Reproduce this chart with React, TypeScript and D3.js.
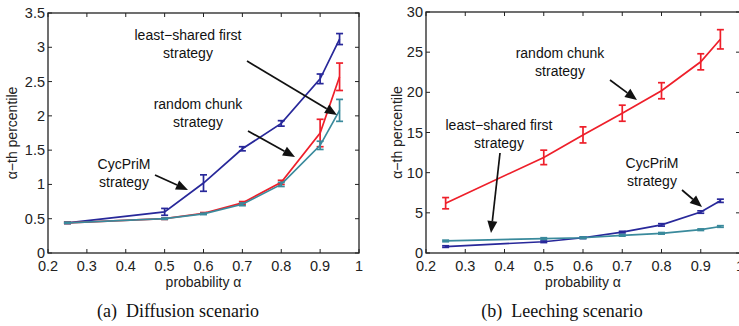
import React from "react";
import * as d3 from "d3";

const alphas = [0.25, 0.5, 0.6, 0.7, 0.8, 0.9, 0.95];

const diffCyc = [0.44, 0.6, 1.02, 1.52, 1.89, 2.54, 3.12];
const diffCycErr = [0.01, 0.05, 0.12, 0.03, 0.04, 0.07, 0.08];
const diffRandom = [0.44, 0.5, 0.58, 0.73, 1.03, 1.75, 2.57];
const diffRandomErr = [0.01, 0.01, 0.01, 0.02, 0.03, 0.2, 0.2];
const diffLeast = [0.44, 0.5, 0.57, 0.71, 1.0, 1.57, 2.08];
const diffLeastErr = [0.01, 0.01, 0.01, 0.02, 0.03, 0.06, 0.16];

const leechCyc = [0.8, 1.4, 1.9, 2.6, 3.5, 5.1, 6.5];
const leechCycErr = [0.1, 0.1, 0.1, 0.1, 0.15, 0.15, 0.2];
const leechRandom = [6.2, 11.9, 14.7, 17.4, 20.2, 23.8, 26.6];
const leechRandomErr = [0.7, 0.9, 1.0, 1.0, 1.0, 1.0, 1.2];
const leechLeast = [1.5, 1.8, 1.9, 2.2, 2.45, 2.9, 3.3];
const leechLeastErr = [0.1, 0.1, 0.1, 0.1, 0.1, 0.1, 0.1];

const xTicks = [0.2, 0.3, 0.4, 0.5, 0.6, 0.7, 0.8, 0.9, 1];
const diffYTicks = [0, 0.5, 1, 1.5, 2, 2.5, 3, 3.5];
const leechYTicks = [0, 5, 10, 15, 20, 25, 30];

const BLUE = "#28289a";
const RED = "#ee1f2a";
const TEAL = "#3a8a9c";
const SANS = "'Liberation Sans', Arial, sans-serif";
const SERIF = "'Liberation Serif', 'Times New Roman', serif";

type Series = { vals: number[]; errs: number[]; color: string };
type Ann = { lines: string[]; tx: number; ty: number; from: [number, number]; to: [number, number] };

function Arrow({ from, to }: { from: [number, number]; to: [number, number] }) {
  const [x1, y1] = from;
  const [x2, y2] = to;
  const ang = Math.atan2(y2 - y1, x2 - x1);
  const L = 12, W = 5;
  const bx = x2 - L * Math.cos(ang);
  const by = y2 - L * Math.sin(ang);
  const px = -Math.sin(ang), py = Math.cos(ang);
  const pts = `${x2},${y2} ${bx + W * px},${by + W * py} ${bx - W * px},${by - W * py}`;
  return (
    <g>
      <line x1={x1} y1={y1} x2={bx} y2={by} stroke="#111" strokeWidth={1.7} />
      <polygon points={pts} fill="#111" />
    </g>
  );
}

function Panel({
  left, right, top, bottom, yMax, yTicks, series, anns, yLabelX, caption, captionX,
}: {
  left: number; right: number; top: number; bottom: number; yMax: number; yTicks: number[];
  series: Series[]; anns: Ann[]; yLabelX: number; caption: string; captionX: number;
}) {
  const x = d3.scaleLinear().domain([0.2, 1]).range([left, right]);
  const y = d3.scaleLinear().domain([0, yMax]).range([bottom, top]);
  const line = d3.line<number>().x((_, i) => x(alphas[i])).y((v) => y(v));
  const tl = 4;
  return (
    <g>
      {series.map((s, si) => (
        <g key={si}>
          <path d={line(s.vals) || ""} fill="none" stroke={s.color} strokeWidth={1.7} />
          {s.vals.map((v, i) => {
            const cx = x(alphas[i]);
            const y1 = y(v + s.errs[i]);
            const y2 = y(v - s.errs[i]);
            return (
              <g key={i} stroke={s.color} strokeWidth={1.7}>
                <line x1={cx} x2={cx} y1={y1} y2={y2} />
                <line x1={cx - 3.5} x2={cx + 3.5} y1={y1} y2={y1} />
                <line x1={cx - 3.5} x2={cx + 3.5} y1={y2} y2={y2} />
              </g>
            );
          })}
        </g>
      ))}
      <rect x={left} y={top} width={right - left} height={bottom - top} fill="none" stroke="#222" strokeWidth={1.3} />
      {xTicks.map((t) => (
        <g key={"x" + t}>
          <line x1={x(t)} x2={x(t)} y1={bottom} y2={bottom - tl} stroke="#222" />
          <line x1={x(t)} x2={x(t)} y1={top} y2={top + tl} stroke="#222" />
          <text x={x(t)} y={271} textAnchor="middle" fontFamily={SANS} fontSize={14.5} fill="#222">
            {String(t)}
          </text>
        </g>
      ))}
      {yTicks.map((t) => (
        <g key={"y" + t}>
          <line x1={left} x2={left + tl} y1={y(t)} y2={y(t)} stroke="#222" />
          <line x1={right} x2={right - tl} y1={y(t)} y2={y(t)} stroke="#222" />
          <text x={left - 3} y={y(t) + 5} textAnchor="end" fontFamily={SANS} fontSize={14.5} fill="#222">
            {String(t)}
          </text>
        </g>
      ))}
      <text
        transform={`translate(${yLabelX},${(top + bottom) / 2}) rotate(-90)`}
        textAnchor="middle" fontFamily={SANS} fontSize={14} fill="#222"
      >
        α−th percentile
      </text>
      <text x={(left + right) / 2} y={287} textAnchor="middle" fontFamily={SANS} fontSize={14} fill="#222">
        probability α
      </text>
      {anns.map((a, ai) => (
        <g key={ai}>
          {a.lines.map((l, li) => (
            <text key={li} x={a.tx} y={a.ty + li * 18} textAnchor="middle" fontFamily={SANS} fontSize={14} fill="#111">
              {l}
            </text>
          ))}
          <Arrow from={a.from} to={a.to} />
        </g>
      ))}
      <text x={captionX} y={317} textAnchor="middle" fontFamily={SERIF} fontSize={18} fill="#111" xmlSpace="preserve">
        {caption}
      </text>
    </g>
  );
}

export default function App() {
  return (
    <svg width={739} height={326} style={{ position: "absolute", left: 0, top: 0, background: "#fff" }}>
      <Panel
        left={48} right={359} top={13} bottom={253} yMax={3.5} yTicks={diffYTicks}
        series={[
          { vals: diffCyc, errs: diffCycErr, color: BLUE },
          { vals: diffRandom, errs: diffRandomErr, color: RED },
          { vals: diffLeast, errs: diffLeastErr, color: TEAL },
        ]}
        anns={[
          { lines: ["least−shared first", "strategy"], tx: 188, ty: 40, from: [247, 61], to: [337, 115] },
          { lines: ["random chunk", "strategy"], tx: 198, ty: 109, from: [248, 131], to: [295, 157] },
          { lines: ["CycPriM", "strategy"], tx: 124, ty: 169, from: [155, 175], to: [188, 190] },
        ]}
        yLabelX={17}
        caption="(a)  Diffusion scenario"
        captionX={178}
      />
      <Panel
        left={426} right={740} top={12} bottom={253} yMax={30} yTicks={leechYTicks}
        series={[
          { vals: leechRandom, errs: leechRandomErr, color: RED },
          { vals: leechCyc, errs: leechCycErr, color: BLUE },
          { vals: leechLeast, errs: leechLeastErr, color: TEAL },
        ]}
        anns={[
          { lines: ["random chunk", "strategy"], tx: 560, ty: 58, from: [610, 80], to: [637, 100] },
          { lines: ["least−shared first", "strategy"], tx: 499, ty: 130, from: [500, 153], to: [491, 233] },
          { lines: ["CycPriM", "strategy"], tx: 652, ty: 168, from: [682, 190], to: [702, 207] },
        ]}
        yLabelX={402}
        caption="(b)  Leeching scenario"
        captionX={562}
      />
    </svg>
  );
}
